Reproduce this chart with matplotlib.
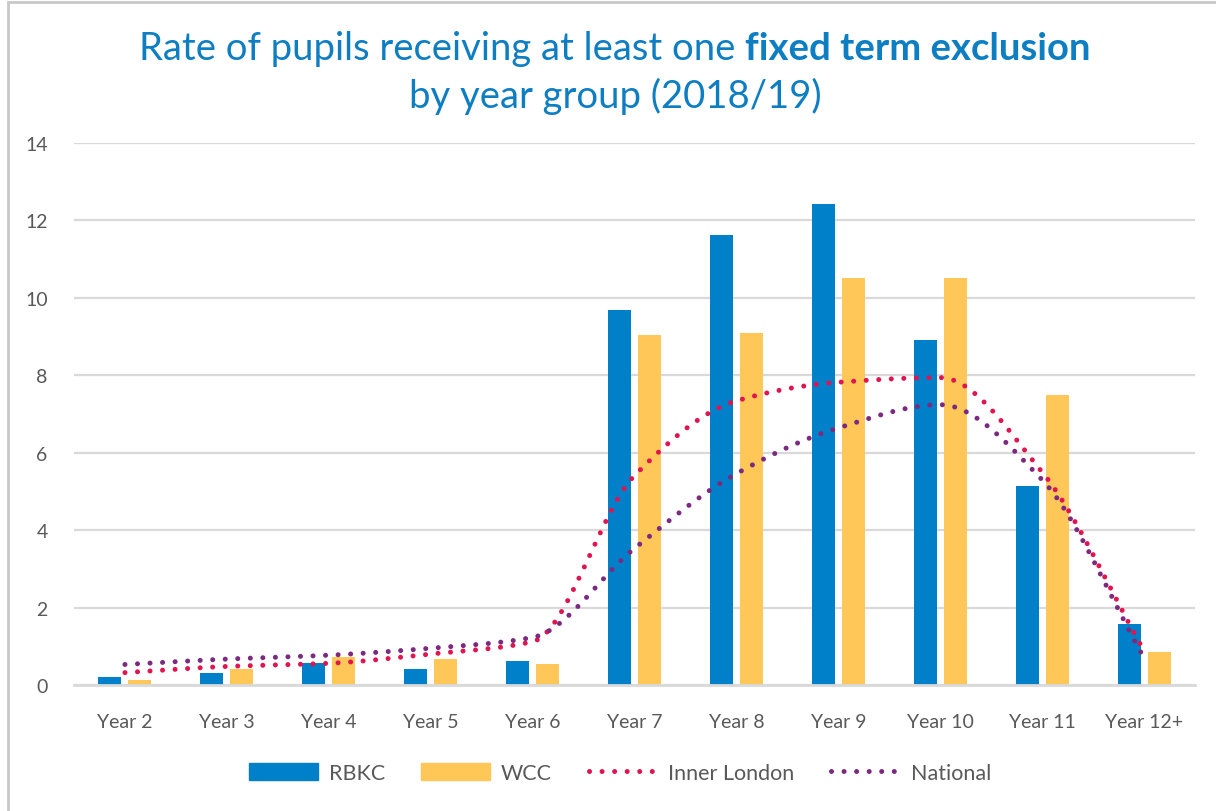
import numpy as np
import matplotlib
matplotlib.use('Agg')
import matplotlib.pyplot as plt
from matplotlib.patches import Rectangle
from matplotlib.lines import Line2D
from matplotlib.patches import Patch

plt.rcParams['font.family'] = ['Lato', 'DejaVu Sans']

years = ['Year 2', 'Year 3', 'Year 4', 'Year 5', 'Year 6', 'Year 7',
         'Year 8', 'Year 9', 'Year 10', 'Year 11', 'Year 12+']
rbkc = [0.21, 0.32, 0.58, 0.42, 0.63, 9.68, 11.62, 12.42, 8.91, 5.13, 1.57]
wcc = [0.14, 0.42, 0.72, 0.68, 0.55, 9.03, 9.08, 10.51, 10.51, 7.48, 0.86]
inner_london = [0.32, 0.48, 0.56, 0.80, 1.12, 5.41, 7.34, 7.82, 7.94, 5.50, 0.88]
national = [0.53, 0.67, 0.77, 0.95, 1.23, 3.53, 5.46, 6.64, 7.24, 5.30, 0.70]

BLUE = '#0080C8'
YELLOW = '#FFC658'
RED = '#E0144F'
PURPLE = '#7B2A80'
GREY = '#595959'
TITLE = '#0E7EC3'


def smooth(vals, steps=40):
    # monotone cubic through the points (no overshoot, close to the excel curve)
    y = np.array(vals, dtype=float)
    n = len(y)
    s = np.diff(y)
    m = np.zeros(n)
    m[0], m[-1] = s[0], s[-1]
    for i in range(1, n - 1):
        if s[i - 1] * s[i] > 0:
            m[i] = 2 * s[i - 1] * s[i] / (s[i - 1] + s[i])
    xs, ys = [], []
    for i in range(n - 1):
        t = np.linspace(0, 1, steps, endpoint=(i == n - 2))
        h00 = 2 * t ** 3 - 3 * t ** 2 + 1
        h10 = t ** 3 - 2 * t ** 2 + t
        h01 = -2 * t ** 3 + 3 * t ** 2
        h11 = t ** 3 - t ** 2
        xs.append(i + t)
        ys.append(h00 * y[i] + h10 * m[i] + h01 * y[i + 1] + h11 * m[i + 1])
    return np.concatenate(xs), np.concatenate(ys)


fig = plt.figure(figsize=(12.16, 8.12), dpi=100)
ax = fig.add_axes([74 / 1216, 1 - 686 / 812, (1195 - 74) / 1216, (686 - 144) / 812])

x = np.arange(len(years))
w = 0.226
off = 0.147
ax.bar(x - off, rbkc, w, color=BLUE, zorder=2, label='RBKC')
ax.bar(x + off, wcc, w, color=YELLOW, zorder=2, label='WCC')

dots = (0, (0.01, 2.5))
lw = 3.6
sx, sy = smooth(inner_london)
ax.plot(sx, sy, color=RED, lw=lw, linestyle=dots, dash_capstyle='round', zorder=3)
sx, sy = smooth(national)
ax.plot(sx, sy, color=PURPLE, lw=lw, linestyle=dots, dash_capstyle='round', zorder=3)

ax.set_xlim(-0.5, len(years) - 0.5)
ax.set_ylim(0, 14)
ax.set_yticks(range(0, 15, 2))
ax.set_xticks(x)
ax.set_xticklabels(years)
ax.tick_params(axis='both', length=0, labelsize=14, colors=GREY)
ax.tick_params(axis='y', pad=19)
ax.tick_params(axis='x', pad=20)
ax.grid(axis='y', color='#D9D9D9', lw=1.6, zorder=0)
ax.set_axisbelow(True)
for s in ['top', 'right', 'left']:
    ax.spines[s].set_visible(False)
ax.spines['bottom'].set_color('#D9D9D9')
ax.spines['bottom'].set_linewidth(2)

handles = [
    Patch(color=BLUE, label='RBKC'),
    Patch(color=YELLOW, label='WCC'),
    Line2D([], [], color=RED, lw=lw, linestyle=dots, dash_capstyle='round', label='Inner London'),
    Line2D([], [], color=PURPLE, lw=lw, linestyle=dots, dash_capstyle='round', label='National'),
]
leg = fig.legend(handles=handles, loc='center', bbox_to_anchor=(620 / 1216, 1 - 774 / 812),
                 ncol=4, frameon=False, fontsize=15.5, handlelength=3.2, handleheight=0.8,
                 handletextpad=0.5, columnspacing=1.7)
for t in leg.get_texts():
    t.set_color(GREY)

# title with a bold part in the first line
fig.canvas.draw()
r = fig.canvas.get_renderer()
t1 = fig.text(0, 1 - 49 / 812, 'Rate of pupils receiving at least one ', fontsize=27.5,
              color=TITLE, va='center', ha='left')
t2 = fig.text(0, 1 - 49 / 812, 'fixed term exclusion', fontsize=27.5, fontweight='bold',
              color=TITLE, va='center', ha='left')
w1 = t1.get_window_extent(r).width
w2 = t2.get_window_extent(r).width
x0 = 615 - (w1 + w2) / 2
t1.set_x(x0 / 1216)
t2.set_x((x0 + w1) / 1216)
fig.text(615 / 1216, 1 - 96 / 812, 'by year group (2018/19)', fontsize=27.5, color=TITLE,
         va='center', ha='center')

fig.add_artist(Rectangle((8 / 1216, -0.1), 1.2, 1 - 3 / 812 + 0.1, transform=fig.transFigure,
                         fill=False, edgecolor='#C8C8C8', lw=2))

fig.savefig('out.png', dpi=100)
